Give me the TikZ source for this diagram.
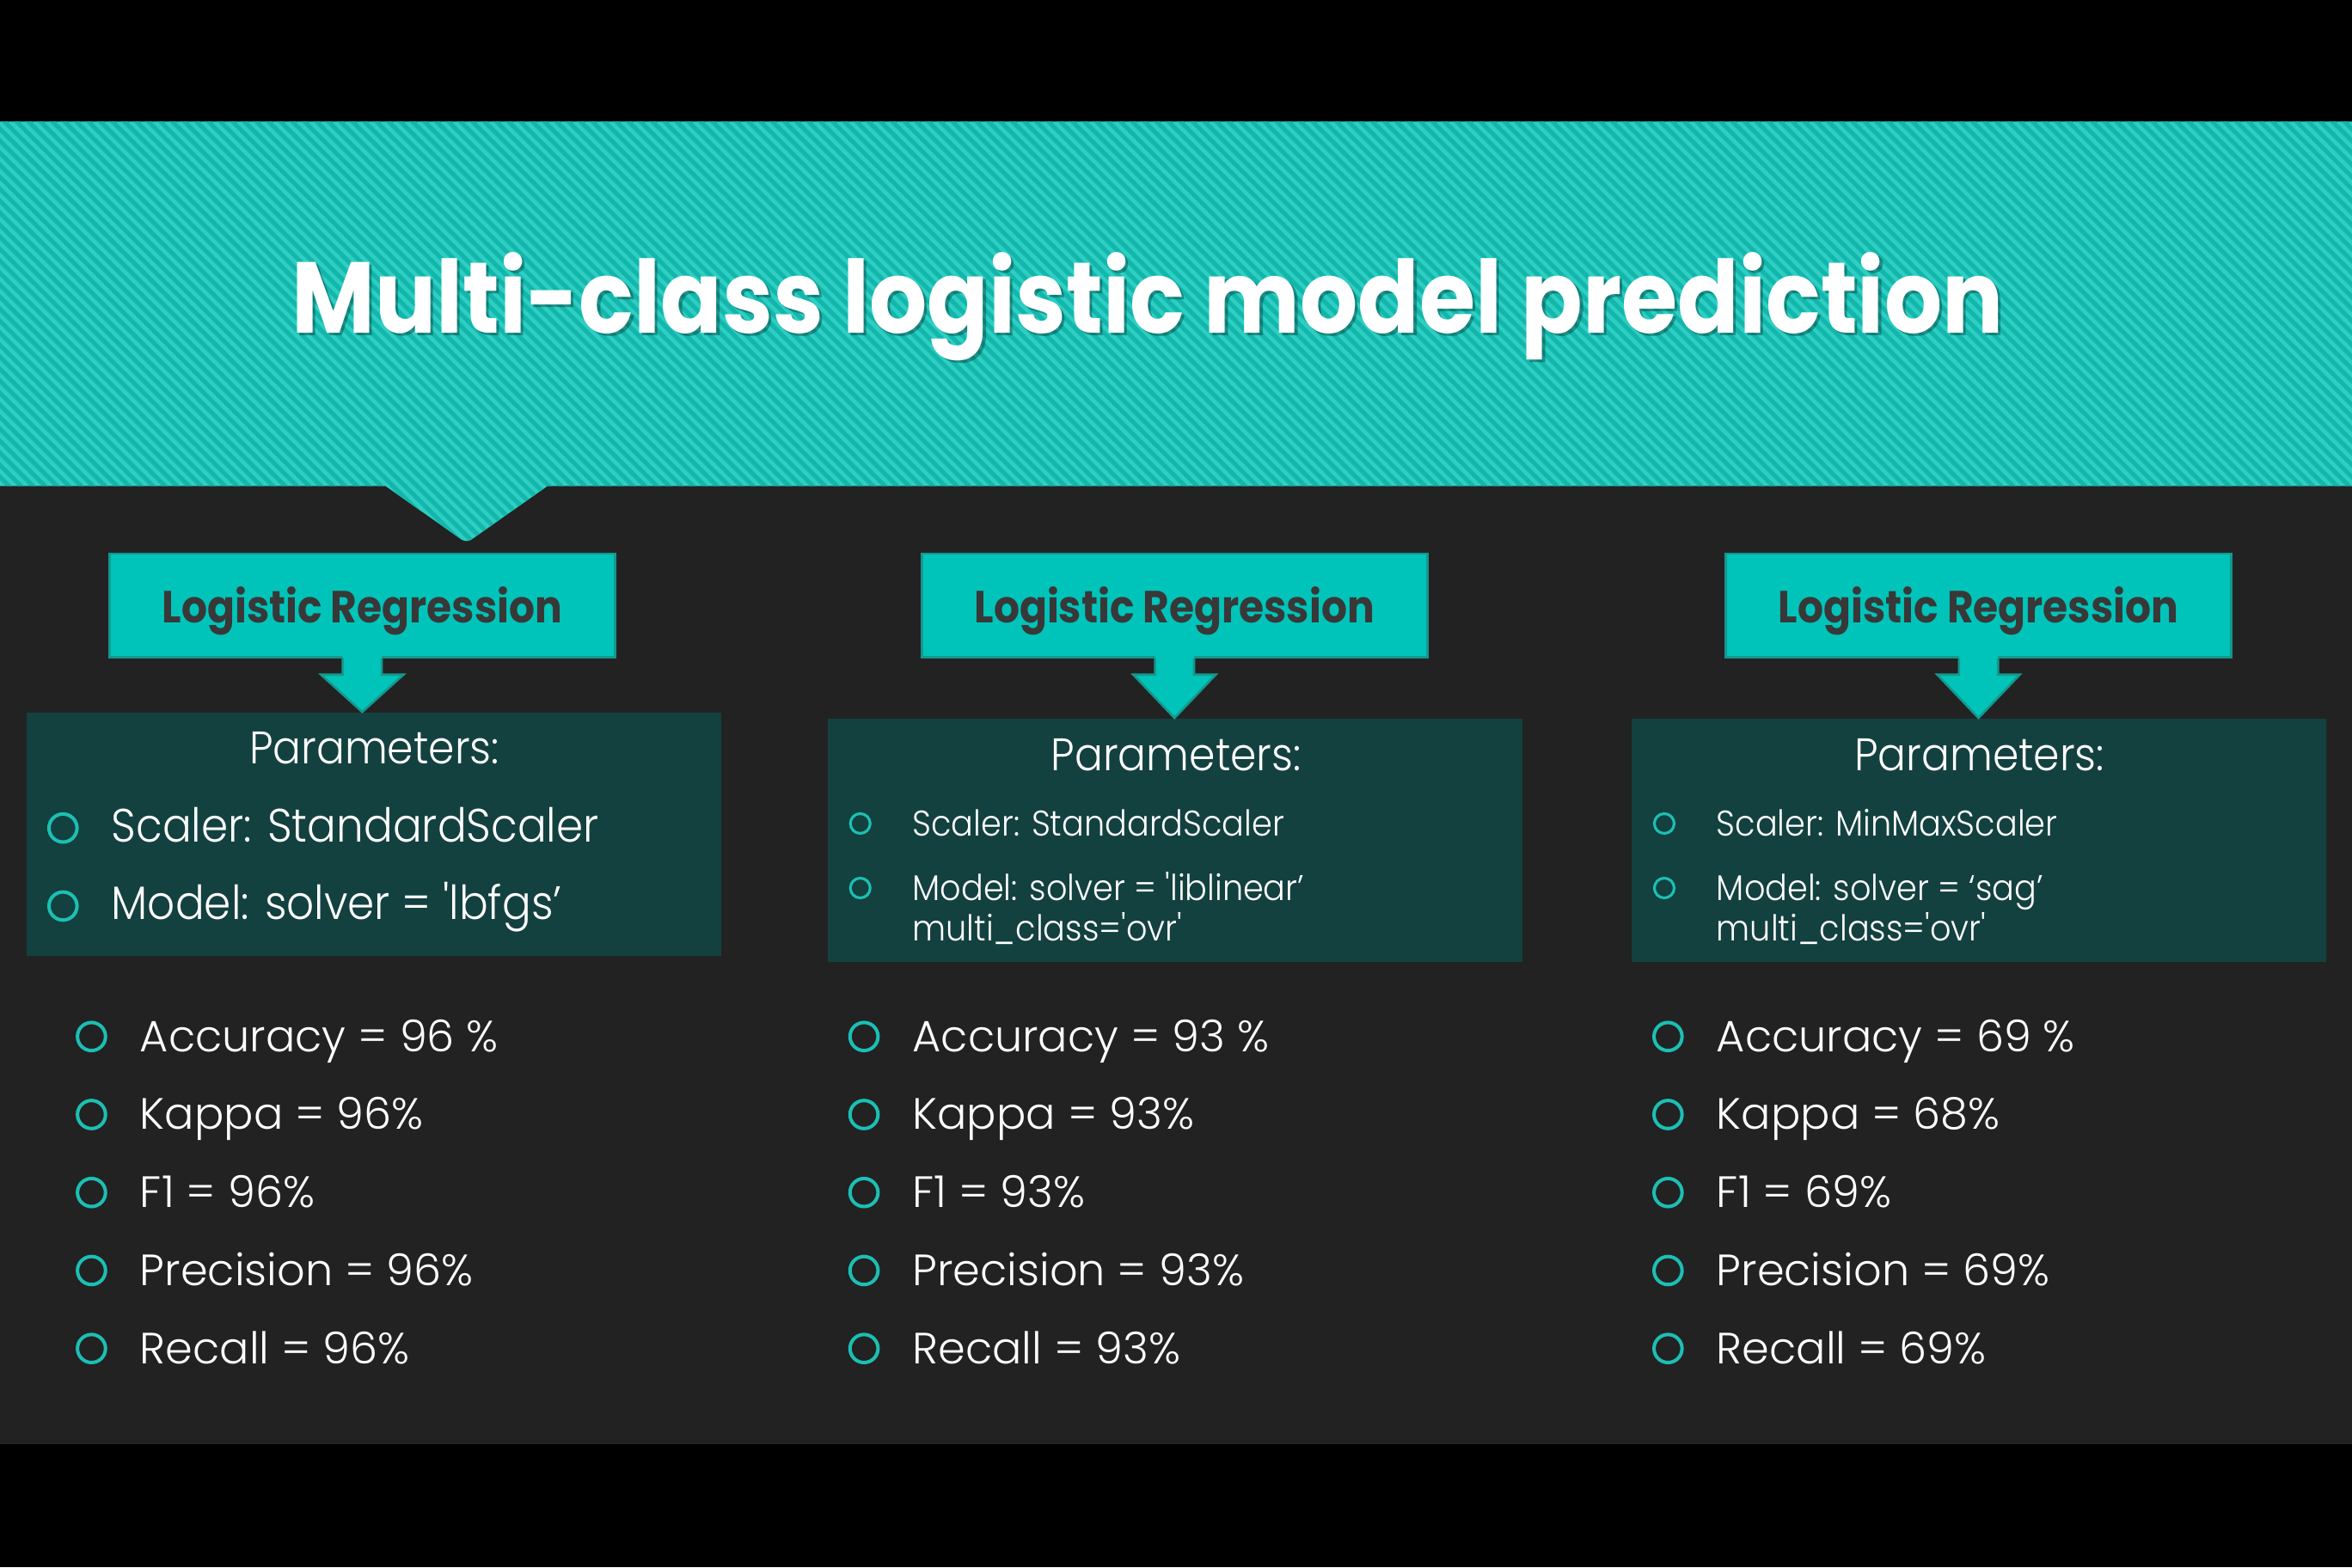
\documentclass[tikz,border=0pt]{standalone}
\usepackage{fontspec}
\setmainfont{Poppins}[UprightFont=* Light, BoldFont=* Bold, Ligatures=TeXOff]
\newfontfamily\headfont{Poppins}[UprightFont=* Bold, FakeStretch=0.9, Ligatures=TeXOff]
\newfontfamily\bodyfont{Poppins}[UprightFont=* Light, Ligatures=TeXOff]
\newfontfamily\bodynarrow{Poppins}[UprightFont=* Light, FakeStretch=0.92, Ligatures=TeXOff]
\usetikzlibrary{calc}

\definecolor{pageblack}{HTML}{000000}
\definecolor{bgdark}{HTML}{222222}
\definecolor{bandlight}{HTML}{2ECEC3}
\definecolor{banddark}{HTML}{12B6AB}
\definecolor{lrfill}{HTML}{00C4B9}
\definecolor{lrline}{HTML}{14988E}
\definecolor{parfill}{HTML}{134140}
\definecolor{ringcol}{HTML}{1CBFB3}
\definecolor{lrtext}{HTML}{383838}

% one metric line: bullet ring + text
\newcommand\mrow[5]{%
  \node[bigring] (#1-o) at (#2,#4-10) {};
  \node[metric] (#1) at (#3,#4) {#5};
}
% down arrow from a header box to its parameter box
\newcommand\flowarrow[2]{%
  \fill[lrfill] ($(#1.south)+(-13,-3)$) -- ($(#1.south)+(-13,11)$) -- ($(#1.south)+(-27.5,11)$)
     -- (#1.south |- #2.north) -- ($(#1.south)+(27.5,11)$) -- ($(#1.south)+(13,11)$)
     -- ($(#1.south)+(13,-3)$) -- cycle;
  \draw[lrline, line width=0.75pt, line join=miter] ($(#1.south)+(-13,0)$) -- ($(#1.south)+(-13,11)$) -- ($(#1.south)+(-27.5,11)$)
     -- (#1.south |- #2.north) -- ($(#1.south)+(27.5,11)$) -- ($(#1.south)+(13,11)$)
     -- ($(#1.south)+(13,0)$);
}

\begin{document}
\begin{tikzpicture}[x=0.5pt,y=-0.5pt,
  lrbox/.style={draw=lrline, line width=0.75pt, fill=lrfill, minimum width=168.5pt,
    minimum height=34.5pt, inner sep=0pt, text=lrtext,
    font=\headfont\fontsize{15}{18}\selectfont, text height=14pt, text depth=2.5pt},
  parbox/.style={fill=parfill, minimum width=231.5pt, minimum height=81pt, inner sep=0pt},
  partitle/.style={anchor=base, text=white, inner sep=0pt, font=\bodynarrow\fontsize{15.2}{18}\selectfont},
  bigpar/.style={anchor=base west, text=white, inner sep=0pt, font=\bodynarrow\fontsize{15.6}{18}\selectfont},
  smallpar/.style={anchor=base west, text=white, inner sep=0pt, font=\bodynarrow\fontsize{11.9}{14}\selectfont},
  metric/.style={anchor=base west, text=white, inner sep=0pt, font=\bodyfont\fontsize{14.6}{17}\selectfont},
  bigring/.style={circle, draw=ringcol, line width=1.15pt, minimum size=9.35pt, inner sep=0pt},
  smallring/.style={circle, draw=ringcol, line width=0.9pt, minimum size=6.6pt, inner sep=0pt},
  titletext/.style={anchor=base, inner sep=0pt, font=\headfont\fontsize{33.6}{40}\selectfont}
]
% page
\fill[pageblack] (0,0) rectangle (1568,1045);
\useasboundingbox (0,0) rectangle (1568,1045);
\fill[bgdark] (0,324) rectangle (1568,963);

% striped banner with pointer
\begin{scope}
  \clip (0,81) -- (1568,81) -- (1568,324) -- (365,324) [rounded corners=2pt] -- (311,362)
        [sharp corners] -- (257,324) -- (0,324) -- cycle;
  \fill[bandlight] (0,70) rectangle (1568,380);
  \foreach \k in {-400,-392,...,1600}
    \draw[banddark, line width=1.45pt] (\k,70) -- ++(320,320);
\end{scope}

% title
\node[titletext, text=black, opacity=0.3] (titleshadow) at (767,224) {Multi-class logistic model prediction};
\node[titletext, text=white] (title) at (765,222) {Multi-class logistic model prediction};

% header boxes
\node[lrbox] (lr1) at (241.5,403.5) {Logistic Regression};
\node[lrbox] (lr2) at (783,403.5) {Logistic Regression};
\node[lrbox] (lr3) at (1319,403.5) {Logistic Regression};

% parameter boxes
\node[parbox] (par1) at (249.5,556) {};
\node[parbox] (par2) at (783.5,560) {};
\node[parbox] (par3) at (1319.5,560) {};

\flowarrow{lr1}{par1}
\flowarrow{lr2}{par2}
\flowarrow{lr3}{par3}

% parameters, first model
\node[partitle] (p1t) at (249.5,509) {Parameters:};
\node[bigring] (p1a-o) at (42,552) {};
\node[bigpar] (p1a) at (74,561.6) {Scaler: StandardScaler};
\node[bigring] (p1b-o) at (42,604) {};
\node[bigpar] (p1b) at (74,613) {Model: solver = 'lbfgs’};

% parameters, second model
\node[partitle] (p2t) at (784,514) {Parameters:};
\node[smallring] (p2a-o) at (573.5,549) {};
\node[smallpar] (p2a) at (608,557.4) {Scaler: StandardScaler};
\node[smallring] (p2b-o) at (573.5,592) {};
\node[smallpar] (p2b) at (608,600.4) {Model: solver = 'liblinear’};
\node[smallpar] (p2c) at (608,627) {multi\_class='ovr'};

% parameters, third model
\node[partitle] (p3t) at (1319.5,514) {Parameters:};
\node[smallring] (p3a-o) at (1109.5,549) {};
\node[smallpar] (p3a) at (1144,557.4) {Scaler: MinMaxScaler};
\node[smallring] (p3b-o) at (1109.5,592) {};
\node[smallpar] (p3b) at (1144,600.4) {Model: solver = ‘sag’};
\node[smallpar] (p3c) at (1144,627) {multi\_class='ovr'};

% scores
\mrow{m1a}{61}{93}{701}{Accuracy = 96 \%}
\mrow{m1b}{61}{93}{753}{Kappa = 96\%}
\mrow{m1c}{61}{93}{805}{F1 = 96\%}
\mrow{m1d}{61}{93}{857}{Precision = 96\%}
\mrow{m1e}{61}{93}{909}{Recall = 96\%}

\mrow{m2a}{576}{608}{701}{Accuracy = 93 \%}
\mrow{m2b}{576}{608}{753}{Kappa = 93\%}
\mrow{m2c}{576}{608}{805}{F1 = 93\%}
\mrow{m2d}{576}{608}{857}{Precision = 93\%}
\mrow{m2e}{576}{608}{909}{Recall = 93\%}

\mrow{m3a}{1112}{1144}{701}{Accuracy = 69 \%}
\mrow{m3b}{1112}{1144}{753}{Kappa = 68\%}
\mrow{m3c}{1112}{1144}{805}{F1 = 69\%}
\mrow{m3d}{1112}{1144}{857}{Precision = 69\%}
\mrow{m3e}{1112}{1144}{909}{Recall = 69\%}
\end{tikzpicture}
\end{document}
